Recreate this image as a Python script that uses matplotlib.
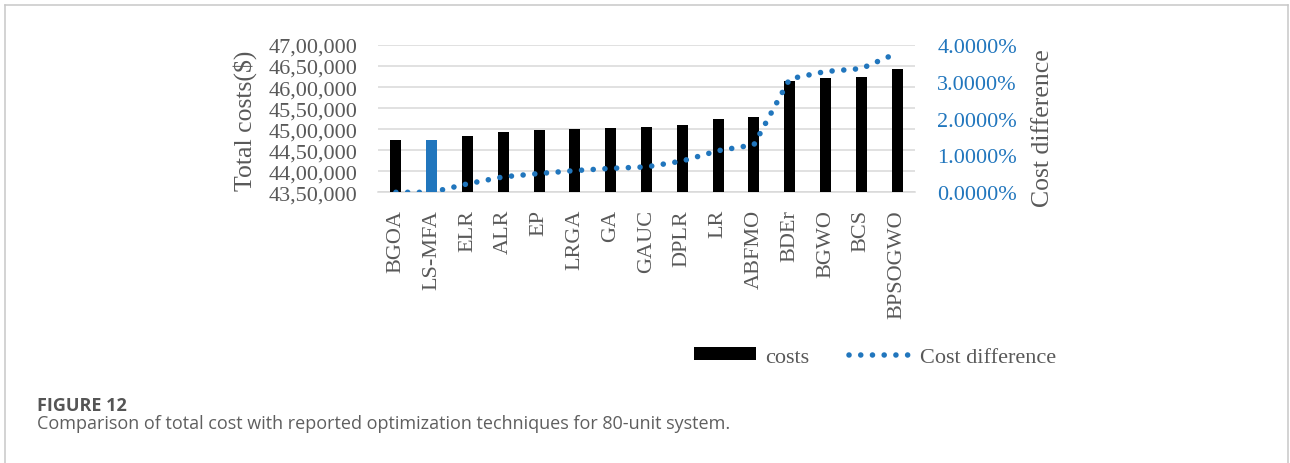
import matplotlib
matplotlib.use("Agg")
import matplotlib.pyplot as plt
from matplotlib.lines import Line2D
from matplotlib.patches import Patch
from matplotlib.ticker import FuncFormatter, MultipleLocator

# Data
methods = ["BGOA", "LS-MFA", "ELR", "ALR", "EP", "LRGA", "GA", "GAUC",
           "DPLR", "LR", "ABFMO", "BDEr", "BGWO", "BCS", "BPSOGWO"]
total_costs = [4474500, 4474500, 4484760, 4493570, 4497600, 4501400, 4503800,
               4504760, 4510950, 4525240, 4530000, 4615000, 4621400, 4624500,
               4643600]
cost_difference_pct = [0.00, 0.00, 0.23, 0.42, 0.51, 0.59, 0.65, 0.69, 0.85,
                       1.13, 1.29, 3.08, 3.28, 3.36, 3.78]
highlight = "LS-MFA"

W, H, DPI = 1290, 464, 100
BLUE = "#2176bd"
GREY_TXT = "#595959"
GRID = "#d9d9d9"
SERIF = ["Liberation Serif", "DejaVu Serif"]
SANS = ["Open Sans", "DejaVu Sans"]
DOT_LW = 4.0
DOTS = (0, (0.01, 2.1))


def indian_format(v, _pos=None):
    s = str(int(round(v)))
    last3, rest = s[-3:], s[:-3]
    groups = []
    while len(rest) > 2:
        groups.insert(0, rest[-2:])
        rest = rest[:-2]
    if rest:
        groups.insert(0, rest)
    return ",".join(groups + [last3]) if groups else last3


fig = plt.figure(figsize=(W / DPI, H / DPI), dpi=DPI)
fig.patch.set_facecolor("white")


def fx(px):
    return px / W


def fy(py):
    return 1 - py / H


ax = fig.add_axes([fx(378), fy(193.3), fx(915) - fx(378), fy(46) - fy(193.3)])
ax2 = ax.twinx()

x = list(range(len(methods)))
colors = [BLUE if m == highlight else "black" for m in methods]
ax.bar(x, total_costs, width=0.31, color=colors, zorder=3)

ax.set_xlim(-0.5, len(methods) - 0.5)
ax.set_ylim(4350000, 4700000)
ax.yaxis.set_major_locator(MultipleLocator(50000))
ax.yaxis.set_major_formatter(FuncFormatter(indian_format))
ax.grid(axis="y", color=GRID, linewidth=1.1, zorder=0)
ax.set_axisbelow(True)
for side in ["top", "right", "left"]:
    ax.spines[side].set_visible(False)
ax.spines["bottom"].set_color(GRID)
ax.spines["bottom"].set_linewidth(1.1)
ax.tick_params(axis="y", length=0, pad=15, labelcolor=GREY_TXT, labelsize=16)
ax.tick_params(axis="x", length=0, pad=12, labelcolor=GREY_TXT, labelsize=16)
ax.set_xticks(x)
ax.set_xticklabels(methods, rotation=90, va="top", ha="center")
for lbl in ax.get_xticklabels() + ax.get_yticklabels():
    lbl.set_fontfamily(SERIF)

# Cost difference on the secondary axis
diff_frac = [v / 100 for v in cost_difference_pct]
ax2.plot(x, diff_frac, color=BLUE, linewidth=DOT_LW, linestyle=DOTS,
         dash_capstyle="round", zorder=4)
ax2.set_ylim(0, 0.04)
ax2.yaxis.set_major_locator(MultipleLocator(0.01))
ax2.yaxis.set_major_formatter(FuncFormatter(lambda v, p: f"{v * 100:.4f}%"))
for side in ["top", "right", "left", "bottom"]:
    ax2.spines[side].set_visible(False)
ax2.tick_params(axis="y", length=0, pad=16, labelcolor=BLUE, labelsize=16)
for lbl in ax2.get_yticklabels():
    lbl.set_fontfamily(SERIF)

# Axis titles
fig.text(fx(245), fy(121), "Total costs($)", rotation=90, ha="center",
         va="center", fontsize=18.5, color=GREY_TXT, family=SERIF)
fig.text(fx(1043), fy(128), "Cost difference", rotation=90, ha="center",
         va="center", fontsize=18.5, color=GREY_TXT, family=SERIF)

# Legend
handles = [
    Patch(facecolor="black", edgecolor="none", label="costs"),
    Line2D([0], [0], color=BLUE, linewidth=DOT_LW, linestyle=DOTS,
           dash_capstyle="round", label="Cost difference"),
]
leg = fig.legend(handles=handles, loc="center", ncol=2,
                 bbox_to_anchor=(fx(875), fy(358)),
                 bbox_transform=fig.transFigure, frameon=False,
                 handlelength=2.8, handleheight=0.5, handletextpad=0.4,
                 columnspacing=1.8,
                 prop={"family": SERIF, "size": 16})
for t in leg.get_texts():
    t.set_color(GREY_TXT)

# Caption
fig.text(fx(37), fy(410.7), "FIGURE 12", ha="left", va="baseline",
         fontsize=13, fontweight="bold", color="#555555", family=SANS)
fig.text(fx(37), fy(429.3),
         "Comparison of total cost with reported optimization techniques for 80-unit system.",
         ha="left", va="baseline", fontsize=13, color="#5f5f5f", family=SANS)

# Figure frame
frame_kw = dict(color="#c8c8c8", linewidth=1.1, transform=fig.transFigure)
fig.add_artist(Line2D([fx(4.5), fx(4.5)], [fy(5.5), 0], **frame_kw))
fig.add_artist(Line2D([fx(4.5), fx(1288)], [fy(5.5), fy(5.5)], **frame_kw))
fig.add_artist(Line2D([fx(1288), fx(1288)], [fy(5.5), 0], **frame_kw))

fig.savefig("out.png", dpi=DPI, facecolor="white")
